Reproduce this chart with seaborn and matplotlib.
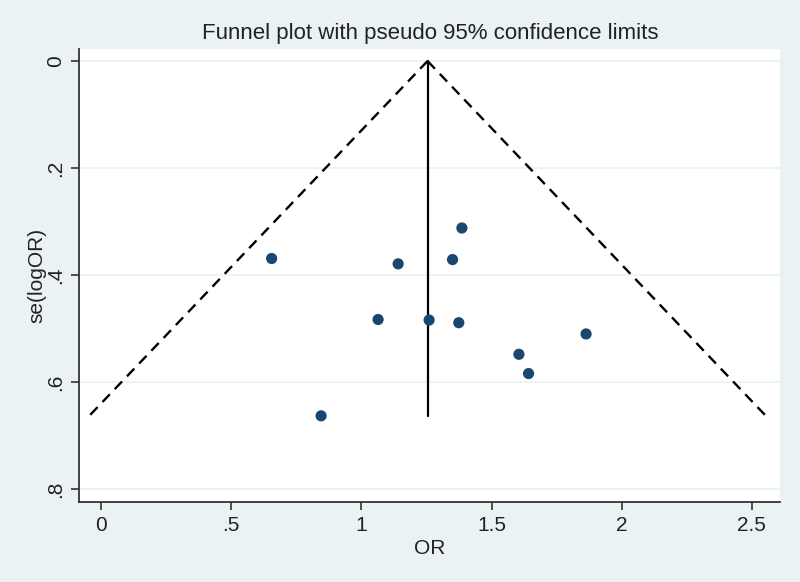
import numpy as np
import pandas as pd
import matplotlib
matplotlib.use("Agg")
import matplotlib.pyplot as plt
import seaborn as sns

# Study estimates
odds_ratio = [0.655, 1.141, 1.386, 1.350, 1.064, 1.260, 1.374, 1.863, 1.605, 1.642, 0.845]
se_log_or = [0.369, 0.379, 0.312, 0.371, 0.483, 0.484, 0.489, 0.510, 0.548, 0.584, 0.663]

# pooled estimate and largest standard error (funnel apex / base)
pooled = 1.254
se_max = 0.663

x_ticks = [0, 0.5, 1, 1.5, 2, 2.5]
x_tick_labels = ["0", ".5", "1", "1.5", "2", "2.5"]
y_ticks = [0, 0.2, 0.4, 0.6, 0.8]
y_tick_labels = ["0", ".2", ".4", ".6", ".8"]

df = pd.DataFrame({"OR": odds_ratio, "se": se_log_or})

sns.set_theme(style="white")
plt.rcParams["font.family"] = ["Liberation Sans", "DejaVu Sans"]

bg = "#EAF2F3"
txt = "#222222"

fig = plt.figure(figsize=(8, 5.82), dpi=100, facecolor=bg)
ax = fig.add_axes([0.09875, 0.1375, 0.87625, 0.7783])
ax.set_facecolor("white")

# grid lines at y ticks
for yv in y_ticks:
    ax.axhline(yv, color=bg, lw=1.2, zorder=0)

# pseudo 95% confidence limits
se_line = np.array([0, se_max])
lower = pooled - 1.96 * se_line
upper = pooled + 1.96 * se_line
ax.plot(lower, se_line, color="black", ls=(0, (4.5, 3)), lw=1.7, zorder=2)
ax.plot(upper, se_line, color="black", ls=(0, (4.5, 3)), lw=1.7, zorder=2)
ax.plot([pooled, pooled], se_line, color="black", lw=1.6, zorder=2)

sns.scatterplot(data=df, x="OR", y="se", ax=ax, color="#1A476F", s=65,
                edgecolor="none", zorder=3, legend=False)

ax.set_xlim(-0.085, 2.608)
ax.set_ylim(0.824, -0.0225)

ax.set_xticks(x_ticks)
ax.set_xticklabels(x_tick_labels, fontsize=15, color=txt)
ax.set_yticks(y_ticks)
ax.set_yticklabels(y_tick_labels, fontsize=15, color=txt, rotation=90, va="center")
ax.tick_params(axis="both", direction="out", length=6, width=1.2, color="#333333", pad=4,
               left=True, bottom=True)

for side in ["top", "right"]:
    ax.spines[side].set_visible(False)
for side in ["left", "bottom"]:
    ax.spines[side].set_color("#333333")
    ax.spines[side].set_linewidth(1.3)

ax.set_xlabel("OR", fontsize=15, color=txt, labelpad=3)
ax.set_ylabel("se(logOR)", fontsize=15, color=txt, labelpad=0)

fig.text(0.5375, 0.943, "Funnel plot with pseudo 95% confidence limits",
         ha="center", va="center", fontsize=16, color=txt)

fig.savefig("out.png", dpi=100, facecolor=bg)
